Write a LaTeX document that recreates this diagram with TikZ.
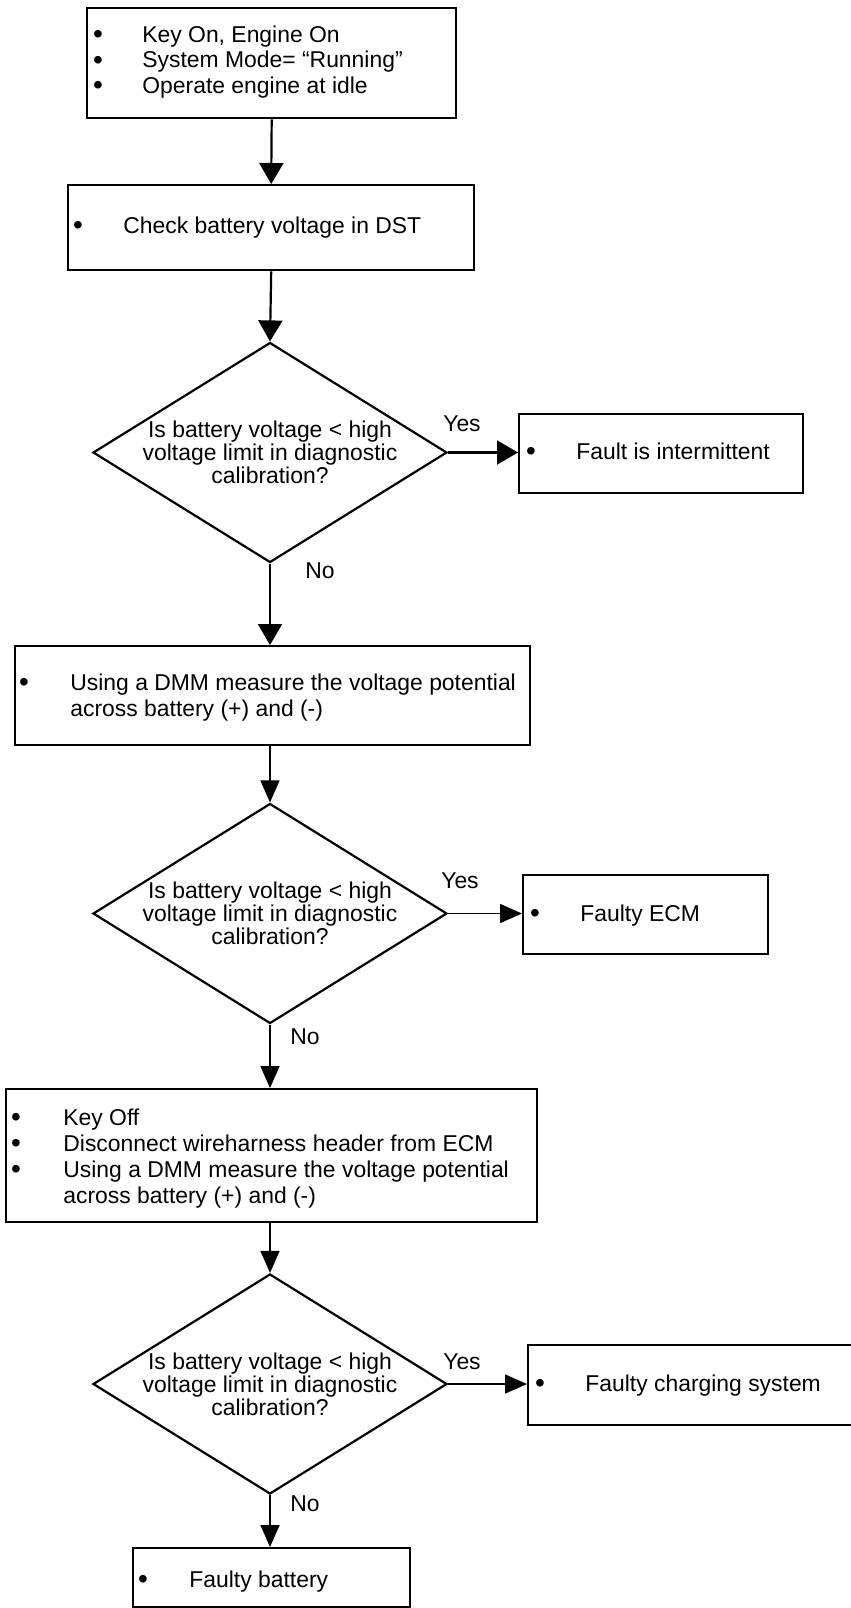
\documentclass[tikz,border=0pt]{standalone}
\usepackage{fontspec}
\setmainfont{Liberation Sans}
\usetikzlibrary{shapes.geometric,arrows.meta}
\begin{document}
\begin{tikzpicture}[x=0.5pt,y=-0.5pt,
  boxst/.style={draw, line width=1.2pt, inner sep=0pt, anchor=north west},
  dia/.style={draw, shape=diamond, line width=1.1pt, inner sep=0pt, minimum width=177pt, minimum height=110pt},
  txt/.style={inner sep=0pt, anchor=base west, font=\fontsize{11.45pt}{12.9pt}\selectfont},
  bul/.style={inner sep=0pt, anchor=base, yshift=-0.8pt, font=\fontsize{14pt}{14pt}\selectfont},
  dtxt/.style={inner sep=0pt, align=center, font=\fontsize{11.45pt}{11.6pt}\selectfont},
  lbl/.style={inner sep=0pt, font=\fontsize{11.45pt}{12.9pt}\selectfont},
  thickarr/.style={-{Triangle[length=10.5pt,width=12pt]}, line width=1.1pt},
  thinarr/.style={-{Triangle[length=11pt,width=9.5pt]}, line width=0.8pt}]
\useasboundingbox (0,0) rectangle (851,1608);
\clip (0,0) rectangle (851,1608);
\fill[white] (0,0) rectangle (851,1608);

% Box 1
\node[boxst, minimum width=184.5pt, minimum height=55pt] (b1) at (86,7) {};
\node[bul] (b1a) at (98,42) {•};
\node[txt] (b1b) at (142,42) {Key On, Engine On};
\node[bul] (b1c) at (98,67.5) {•};
\node[txt] (b1d) at (142,67.5) {System Mode= “Running”};
\node[bul] (b1e) at (98,93) {•};
\node[txt] (b1f) at (142,93) {Operate engine at idle};

% Box 2
\node[boxst, minimum width=203pt, minimum height=42.5pt] (b2) at (67,184) {};
\node[bul] (b2a) at (78,233) {•};
\node[txt] (b2b) at (123,233) {Check battery voltage in DST};

% Diamond 1
\node[dia] (d1) at (270,452.5) {};
\node[dtxt] (d1t) at (270,452.5) {Is battery voltage < high\\voltage limit in diagnostic\\calibration?};

% Fault intermittent
\node[boxst, minimum width=142pt, minimum height=39.5pt] (bi) at (518,413) {};
\node[bul] (bia) at (531,459) {•};
\node[txt] (bib) at (576,459) {Fault is intermittent};

% Box 3
\node[boxst, minimum width=257.5pt, minimum height=49.5pt] (b3) at (14,645) {};
\node[bul] (b3a) at (24,690) {•};
\node[txt] (b3b) at (70,690) {Using a DMM measure the voltage potential};
\node[txt] (b3c) at (70,716) {across battery (+) and (-)};

% Diamond 2
\node[dia] (d2) at (270,913.5) {};
\node[dtxt] (d2t) at (270,913.5) {Is battery voltage < high\\voltage limit in diagnostic\\calibration?};

% Faulty ECM
\node[boxst, minimum width=122.5pt, minimum height=39.5pt] (be) at (522,874) {};
\node[bul] (bea) at (535,921) {•};
\node[txt] (beb) at (580,921) {Faulty ECM};

% Box 5
\node[boxst, minimum width=265.5pt, minimum height=66.5pt] (b5) at (5,1088) {};
\node[bul] (b5a) at (16,1125) {•};
\node[txt] (b5b) at (63,1125) {Key Off};
\node[bul] (b5c) at (16,1151) {•};
\node[txt] (b5d) at (63,1151) {Disconnect wireharness header from ECM};
\node[bul] (b5e) at (16,1177) {•};
\node[txt] (b5f) at (63,1177) {Using a DMM measure the voltage potential};
\node[txt] (b5g) at (63,1203) {across battery (+) and (-)};

% Diamond 3
\node[dia] (d3) at (270,1384) {};
\node[dtxt] (d3t) at (270,1384) {Is battery voltage < high\\voltage limit in diagnostic\\calibration?};

% Faulty charging system
\node[boxst, minimum width=175pt, minimum height=40pt] (bc) at (527,1344) {};
\node[bul] (bca) at (540,1391) {•};
\node[txt] (bcb) at (585,1391) {Faulty charging system};

% Faulty battery
\node[boxst, minimum width=138.5pt, minimum height=29.5pt] (bb) at (132,1547) {};
\node[bul] (bba) at (143,1587) {•};
\node[txt] (bbb) at (189,1587) {Faulty battery};

% Labels
\node[lbl] (y1) at (462,424) {Yes};
\node[lbl] (n1) at (320,571) {No};
\node[lbl] (y2) at (460,881) {Yes};
\node[lbl] (n2) at (305,1037) {No};
\node[lbl] (y3) at (462,1362) {Yes};
\node[lbl] (n3) at (305,1504) {No};

% Connectors
\draw[thickarr] (b1.south) -- (b2.north);
\draw[thickarr] (b2.south) -- (d1.north);
\draw[thickarr] (d1.east) -- (d1.east -| bi.west);
\draw[thickarr] (d1.south) -- (d1.south |- b3.north);
\draw[thinarr] (b3.south -| d2.north) -- (d2.north);
\draw[thinarr] (d2.east) -- (d2.east -| be.west);
\draw[thinarr] (d2.south) -- (d2.south |- b5.north);
\draw[thinarr] (b5.south -| d3.north) -- (d3.north);
\draw[thinarr] (d3.east) -- (d3.east -| bc.west);
\draw[thinarr] (d3.south) -- (d3.south |- bb.north);
\end{tikzpicture}
\end{document}
